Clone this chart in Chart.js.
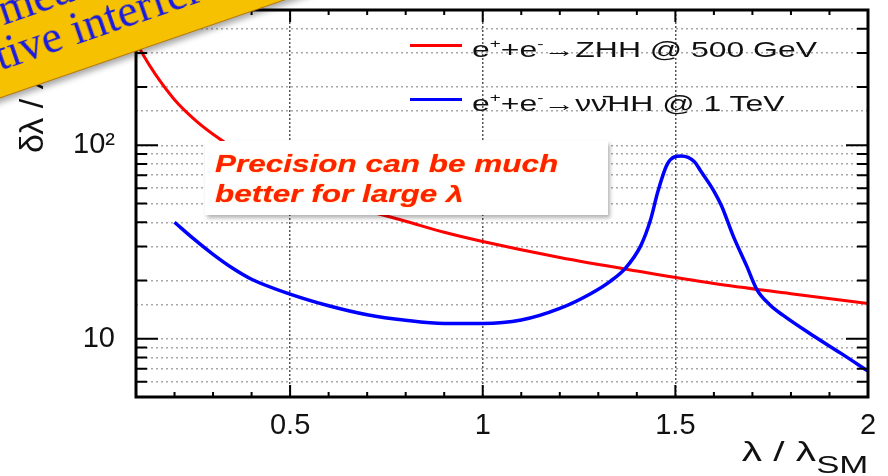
<!DOCTYPE html>
<html>
<head>
<meta charset="utf-8">
<script src="https://cdn.jsdelivr.net/npm/chart.js@4.4.1/dist/chart.umd.min.js"></script>
<style>
  body { margin: 0; background: #fff; }
  #wrap { position: relative; width: 888px; height: 476px; overflow: hidden; background: #fff; font-family: 'Liberation Sans', Arial, sans-serif; }
  #c { position: absolute; left: 0; top: 0; }
  .leg-line { position: absolute; left: 410px; width: 52px; height: 3px; }
  .leg-text { position: absolute; left: 472px; font-size: 22px; line-height: 22px; white-space: nowrap; color: #111; transform-origin: 0 50%; transform: scaleX(1.45); }
  .leg-text sup { font-size: 13px; vertical-align: 9px; line-height: 0; }
  #note { position: absolute; left: 205px; top: 141px; width: 403px; height: 74px; background: #fff;
          box-shadow: 2px 3px 4px rgba(0,0,0,0.3); }
  #note div { position: absolute; left: 10px; top: 8px; font: italic bold 23px 'Liberation Sans', Arial, sans-serif;
              line-height: 30px; color: #ff2200; white-space: nowrap; transform-origin: 0 0; transform: scaleX(1.37);
              text-shadow: 0 0 1px #ff9a00; }
  #ytitle { position: absolute; left: 31px; top: 153px; font-size: 34px; line-height: 36px; white-space: nowrap; color: #111;
            transform-origin: 0 0; transform: rotate(-90deg) translate(0, -50%); }
  #xtitle { position: absolute; right: 20px; top: 436px; font-size: 28px; line-height: 32px; white-space: nowrap; color: #111;
            transform-origin: 100% 0; transform: scaleX(1.45); }
  #xtitle sub { font-size: 24px; vertical-align: -12px; line-height: 0; }
  #banner { position: absolute; left: -150px; top: 29px; width: 820px; height: 120px; background: #f6c100;
            border-bottom: 1px solid #b77a00; transform-origin: 0 100%; transform: rotate(-19deg);
            box-shadow: 0 4px 6px rgba(0,0,0,0.35); }
  #banner div { position: absolute; left: 12px; font: 46px 'Liberation Serif', 'Times New Roman', serif; color: #1a1ae0; white-space: nowrap; line-height: 46px; }
</style>
</head>
<body>
<div id="wrap">
  <canvas id="c" width="888" height="476"></canvas>
  <div id="note"><div>Precision can be much<br>better for large λ</div></div>
  <div id="ytitle">δλ / λ (%)</div>
  <div id="xtitle">λ / λ<sub>SM</sub></div>
  <div id="banner"><div style="top:15px">Easier to measure</div><div style="top:57px">constructive interference</div></div>
</div>
<script>
// axis ticks
const xMajor = [0.5, 1, 1.5, 2];
const xMinor = [0.2, 0.3, 0.4, 0.6, 0.7, 0.8, 0.9, 1.1, 1.2, 1.3, 1.4, 1.6, 1.7, 1.8, 1.9];
const yMajor = [10, 100];
const yMinor = [6, 7, 8, 9, 20, 30, 40, 50, 60, 70, 80, 90, 200, 300, 400];

// series
const seriesNames = ['e<sup>+</sup>+e<sup>-</sup>→ZHH @ 500 GeV', 'e<sup>+</sup>+e<sup>-</sup>→νν̄HH @ 1 TeV'];
const seriesColors = ['#ff0000', '#0000ff'];

const redX = [0.1, 0.12, 0.15, 0.2, 0.25, 0.3, 0.4, 0.5, 0.6, 0.7, 0.8, 0.9, 1.0, 1.2, 1.4, 1.6, 1.8, 2.0];
const redY = [345, 290, 233, 172, 137, 114, 84, 66, 54, 46, 40.5, 35.5, 31.8, 26.3, 22.4, 19.3, 17.1, 15.2];

const blueX = [0.2, 0.25, 0.3, 0.35, 0.4, 0.5, 0.6, 0.7, 0.8, 0.9, 1.0, 1.1, 1.2, 1.28, 1.33, 1.37, 1.41, 1.435,
               1.455, 1.48, 1.515, 1.55, 1.565, 1.6, 1.62, 1.65, 1.685, 1.712, 1.745, 1.78, 1.86, 1.93, 2.0];
const blueY = [40, 32.8, 27.3, 23.2, 20.3, 17, 14.8, 13.3, 12.45, 12.0, 12.0, 12.5, 14.35, 17.1, 19.75, 23.1, 30.2, 40.8,
               58, 80.5, 88, 82, 74, 58, 48.5, 34, 23.8, 17.9, 15.0, 13.2, 10.3, 8.4, 6.8];

// legend (html)
const wrap = document.getElementById('wrap');
seriesNames.forEach((name, i) => {
  const y = [45, 99][i];
  const line = document.createElement('div');
  line.className = 'leg-line';
  line.style.top = (y - 1.5) + 'px';
  line.style.background = seriesColors[i];
  wrap.appendChild(line);
  const txt = document.createElement('div');
  txt.className = 'leg-text';
  txt.style.top = (y - 6) + 'px';
  txt.innerHTML = name;
  wrap.appendChild(txt);
});
wrap.appendChild(document.getElementById('banner'));

// frame with inward ticks, ROOT style
const framePlugin = {
  id: 'frame',
  afterDatasetsDraw(chart) {
    const { ctx, chartArea: a, scales: { x, y } } = chart;
    ctx.save();
    ctx.strokeStyle = '#000';
    ctx.lineWidth = 2;
    ctx.beginPath();
    const tickX = (v, len) => {
      const px = x.getPixelForValue(v);
      ctx.moveTo(px, a.bottom); ctx.lineTo(px, a.bottom - len);
      ctx.moveTo(px, a.top); ctx.lineTo(px, a.top + len);
    };
    const tickY = (v, len) => {
      const py = y.getPixelForValue(v);
      ctx.moveTo(a.left, py); ctx.lineTo(a.left + len, py);
      ctx.moveTo(a.right, py); ctx.lineTo(a.right - len, py);
    };
    xMinor.forEach(v => tickX(v, 5));
    xMajor.forEach(v => tickX(v, 12));
    yMinor.forEach(v => tickY(v, 11));
    yMajor.forEach(v => tickY(v, 22));
    ctx.stroke();
    ctx.lineWidth = 3;
    ctx.strokeRect(a.left, a.top, a.right - a.left, a.bottom - a.top);
    ctx.restore();
  }
};

const noPad = s => { s.paddingTop = 0; s.paddingBottom = 0; s.paddingLeft = 0; s.paddingRight = 0; };

new Chart(document.getElementById('c'), {
  type: 'line',
  data: {
    datasets: [{
      label: 'ZHH 500 GeV',
      data: redX.map((v, i) => ({ x: v, y: redY[i] })),
      borderColor: seriesColors[0],
      borderWidth: 3,
      pointRadius: 0,
      cubicInterpolationMode: 'monotone',
      order: 1,
    }, {
      label: 'vvHH 1 TeV',
      data: blueX.map((v, i) => ({ x: v, y: blueY[i] })),
      borderColor: seriesColors[1],
      borderWidth: 3.5,
      pointRadius: 0,
      cubicInterpolationMode: 'monotone',
      order: 0,
    }]
  },
  options: {
    responsive: false,
    animation: false,
    devicePixelRatio: 1,
    layout: { padding: { left: 0, right: 20, top: 10, bottom: 0 } },
    plugins: { legend: { display: false }, tooltip: { enabled: false } },
    scales: {
      x: {
        type: 'linear', min: 0.1, max: 2,
        afterBuildTicks: s => { s.ticks = xMajor.map(v => ({ value: v })); },
        afterFit: s => { s.height = 79; noPad(s); },
        ticks: {
          autoSkip: false, maxRotation: 0, padding: 12, color: '#111',
          font: { family: "'Liberation Sans', Arial, sans-serif", size: 29 },
          callback: v => String(v)
        },
        grid: {
          drawTicks: false, lineWidth: 1.5,
          color: c => (c.tick && c.tick.value === 2) ? 'transparent' : '#555'
        },
        border: { display: false, dash: [2, 2] }
      },
      y: {
        type: 'logarithmic', min: 5, max: 500,
        afterFit: s => { s.width = 136; noPad(s); },
        ticks: {
          autoSkip: false, padding: 21, color: '#111',
          font: { family: "'Liberation Sans', Arial, sans-serif", size: 29 },
          callback: v => v === 10 ? '10' : (v === 100 ? '10²' : '')
        },
        grid: { drawTicks: false, lineWidth: 1.5, color: '#a8a8a8' },
        border: { display: false, dash: [2, 3] }
      }
    }
  },
  plugins: [framePlugin]
});
</script>
</body>
</html>
